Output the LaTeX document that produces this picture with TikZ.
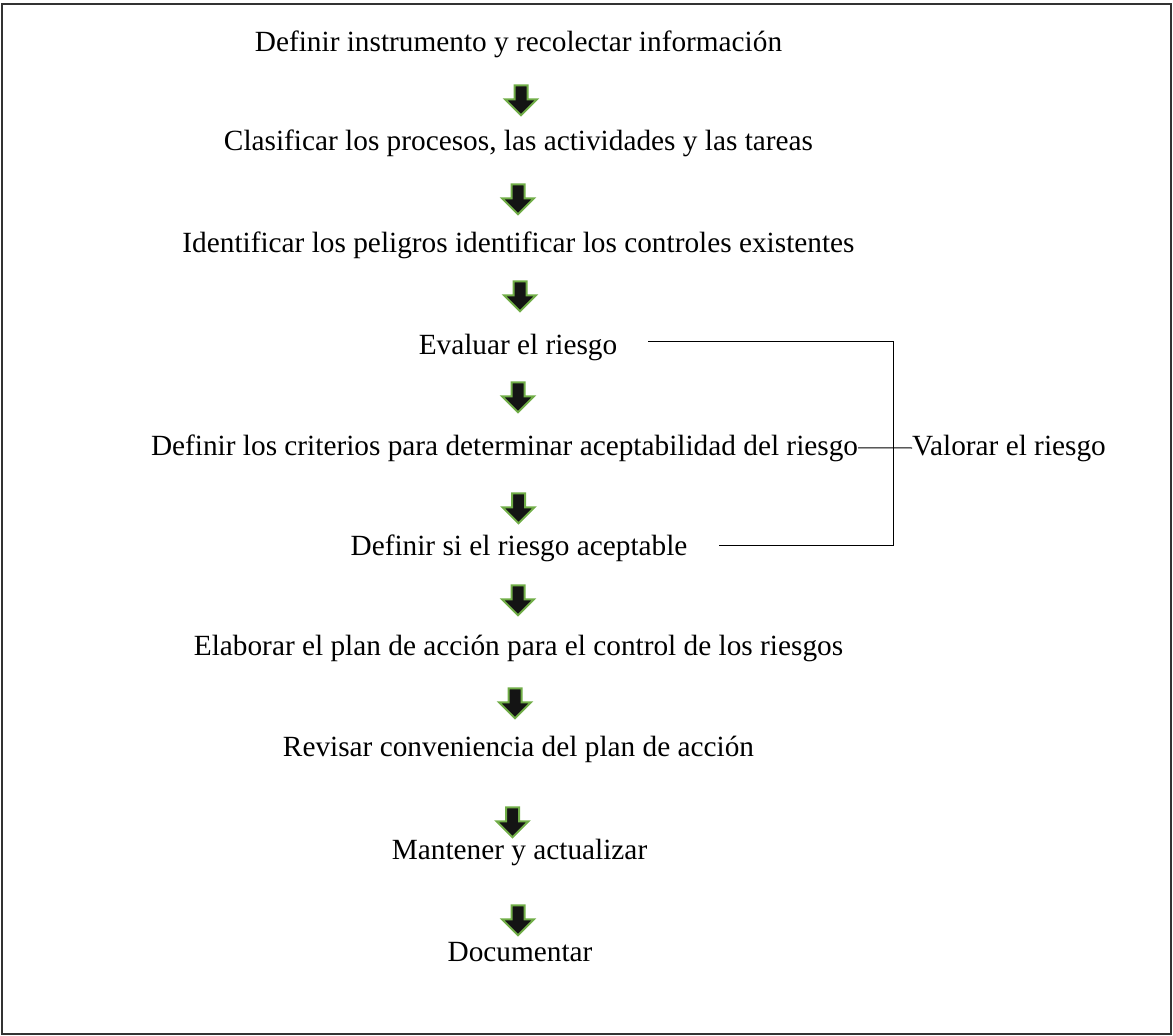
\documentclass[tikz,border=0pt]{standalone}
\usepackage{fontspec}
\setmainfont{Liberation Serif}
\usetikzlibrary{shapes.arrows}
\definecolor{arrgreen}{HTML}{70AD47}
\begin{document}
\begin{tikzpicture}[x=1pt,y=-1pt,
  lbl/.style={inner sep=0pt,font=\fontsize{29.3}{34}\selectfont,anchor=base},
  blockarrow/.style={single arrow,shape border rotate=270,fill=black!92,draw=arrgreen,line width=2pt,
    inner sep=5.5pt,single arrow head extend=9.5pt,single arrow head indent=0pt,minimum height=30pt},
  bracket/.style={line width=1pt}]
\useasboundingbox (0,0) rectangle (1173,1036);
\draw[line width=2.4pt,draw=black!80] (1.8,4.2) rectangle (1171,1034);
\node[lbl] (s1) at (518.5,51) {Definir instrumento y recolectar información};
\node[lbl] (s2) at (518.5,150) {Clasificar los procesos, las actividades y las tareas};
\node[lbl] (s3) at (518.5,252) {Identificar los peligros identificar los controles existentes};
\node[lbl] (s4) at (518,354) {Evaluar el riesgo};
\node[lbl] (s5) at (504.5,455) {Definir los criterios para determinar aceptabilidad del riesgo};
\node[lbl] (s6) at (519,555) {Definir si el riesgo aceptable};
\node[lbl] (s7) at (518.5,655) {Elaborar el plan de acción para el control de los riesgos};
\node[lbl] (s8) at (518.5,756) {Revisar conveniencia del plan de acción};
\node[lbl] (s9) at (519.5,859) {Mantener y actualizar};
\node[lbl] (s10) at (520,961) {Documentar};
\node[lbl,anchor=base west] (val) at (912,455) {Valorar el riesgo};
\node[blockarrow] (a1) at (521,97) {};
\node[blockarrow] (a2) at (518,196) {};
\node[blockarrow] (a3) at (520,293) {};
\node[blockarrow] (a4) at (518,394) {};
\node[blockarrow] (a5) at (518.5,505) {};
\node[blockarrow] (a6) at (518,597) {};
\node[blockarrow] (a7) at (515,700) {};
\node[blockarrow] (a8) at (512.5,819) {};
\node[blockarrow] (a9) at (518,917) {};
\coordinate (bt1) at (648,341);
\coordinate (bt2) at (893,341);
\coordinate (bb1) at (719,545);
\coordinate (bb2) at (893,545);
\draw[bracket] (bt1) -- (bt2) -- (bb2) -- (bb1);
\draw[bracket] (s5.east) -- (val.west);
\end{tikzpicture}
\end{document}
